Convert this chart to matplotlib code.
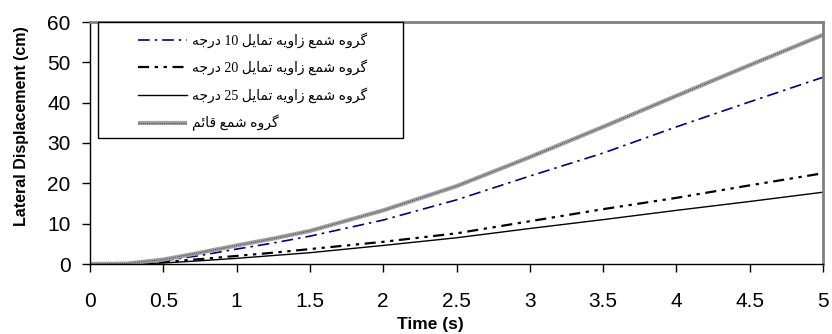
import re
import numpy as np
import matplotlib
matplotlib.use("Agg")
import matplotlib.pyplot as plt
from matplotlib.patches import Rectangle

# time axis (s)
time_s = [0, 0.25, 0.5, 0.75, 1, 1.25, 1.5, 2, 2.5, 3, 3.5, 4, 4.5, 5]
# lateral displacement (cm)
disp_10 = [0, 0.1, 0.8, 2.1, 3.7, 5.2, 6.9, 10.9, 15.9, 21.8, 27.5, 34.0, 40.2, 46.3]
disp_20 = [0, 0.05, 0.5, 1.2, 2.0, 2.8, 3.7, 5.5, 7.6, 10.6, 13.6, 16.4, 19.5, 22.5]
disp_25 = [0, 0.0, 0.25, 0.8, 1.4, 2.1, 2.8, 4.6, 6.5, 8.8, 11.0, 13.3, 15.5, 17.8]
disp_vert = [0, 0.1, 1.1, 2.8, 4.6, 6.3, 8.2, 13.3, 19.3, 26.5, 34.0, 41.7, 49.3, 56.8]

labels = ["گروه شمع زاویه تمایل 10 درجه",
          "گروه شمع زاویه تمایل 20 درجه",
          "گروه شمع زاویه تمایل 25 درجه",
          "گروه شمع قائم"]

# simple arabic shaping (presentation forms) + visual order, no external libs
FORMS = {
    'ا': ('\uFE8D', '\uFE8E', None, None),
    'د': ('\uFEA9', '\uFEAA', None, None),
    'ر': ('\uFEAD', '\uFEAE', None, None),
    'ز': ('\uFEAF', '\uFEB0', None, None),
    'و': ('\uFEED', '\uFEEE', None, None),
    'ت': ('\uFE95', '\uFE96', '\uFE97', '\uFE98'),
    'ج': ('\uFE9D', '\uFE9E', '\uFE9F', '\uFEA0'),
    'ش': ('\uFEB5', '\uFEB6', '\uFEB7', '\uFEB8'),
    'ع': ('\uFEC9', '\uFECA', '\uFECB', '\uFECC'),
    'ق': ('\uFED5', '\uFED6', '\uFED7', '\uFED8'),
    'ل': ('\uFEDD', '\uFEDE', '\uFEDF', '\uFEE0'),
    'م': ('\uFEE1', '\uFEE2', '\uFEE3', '\uFEE4'),
    'ه': ('\uFEE9', '\uFEEA', '\uFEEB', '\uFEEC'),
    'ئ': ('\uFE89', '\uFE8A', '\uFE8B', '\uFE8C'),
    'ی': ('\uFBFC', '\uFBFD', '\uFBFE', '\uFBFF'),
    'گ': ('\uFB92', '\uFB93', '\uFB94', '\uFB95'),
}


def dual(c):
    return c in FORMS and FORMS[c][2] is not None


def shape(s):
    out = []
    for i, c in enumerate(s):
        if c not in FORMS:
            out.append(c)
            continue
        prev = s[i - 1] if i > 0 else ''
        nxt = s[i + 1] if i + 1 < len(s) else ''
        jp = dual(prev)
        jn = dual(c) and nxt in FORMS
        f = FORMS[c]
        if jp and jn:
            out.append(f[3])
        elif jp:
            out.append(f[1])
        elif jn:
            out.append(f[2])
        else:
            out.append(f[0])
    vis = ''.join(out)[::-1]
    return re.sub(r'\d+', lambda m: m.group()[::-1], vis)


plt.rcParams['font.family'] = ['Liberation Sans', 'DejaVu Sans']

fig = plt.figure(figsize=(8.32, 3.34), dpi=100)
ax = fig.add_axes([90 / 832, 70 / 334, 733 / 832, 242 / 334])

h1, = ax.plot(time_s, disp_10, color='#000080', lw=1.2, ls=(0, (7, 3, 1.5, 3)))
h2, = ax.plot(time_s, disp_20, color='black', lw=1.6, ls=(0, (5, 2.5, 1.5, 2.5, 1.5, 2.5)))
h3, = ax.plot(time_s, disp_25, color='black', lw=1.0)
h4a, = ax.plot(time_s, disp_vert, color='#a0a0a0', lw=3.0, solid_capstyle='butt')
h4b, = ax.plot(time_s, disp_vert, color='#404040', lw=0.7, ls=(0, (1, 1.2)))

ax.set_xlim(0, 5)
ax.set_ylim(0, 60)
ax.set_xticks(np.arange(0, 5.01, 0.5))
ax.set_xticklabels(['0', '0.5', '1', '1.5', '2', '2.5', '3', '3.5', '4', '4.5', '5'])
ax.set_yticks(np.arange(0, 61, 10))
ax.tick_params(axis='both', direction='out', length=6, width=1, labelsize=15, color='black')
ax.tick_params(axis='x', pad=14)
ax.tick_params(axis='y', pad=8)

for side in ['left', 'bottom']:
    ax.spines[side].set_color('black')
    ax.spines[side].set_linewidth(1)
for side in ['top', 'right']:
    ax.spines[side].set_color('#808080')
    ax.spines[side].set_linewidth(2)

fig.text(430 / 832, 1 - 324 / 334, 'Time (s)', fontsize=12.5, fontweight='bold',
         ha='center', va='center')
fig.text(22 / 832, 1 - 126 / 334, 'Lateral Displacement (cm)', fontsize=11.5,
         fontweight='bold', rotation=90, ha='center', va='center')

# legend frame drawn separately so the box size matches
box = Rectangle((98 / 832, 1 - 138 / 334), 305 / 832, 116 / 334, transform=fig.transFigure,
                facecolor='white', edgecolor='black', lw=1, zorder=5)
fig.patches.append(box)

leg = fig.legend([h1, h2, h3, (h4a, h4b)], [shape(t) for t in labels],
                 loc='upper left', bbox_to_anchor=(138 / 832, 1 - 32 / 334),
                 frameon=False, handlelength=3.5, handletextpad=0.36,
                 labelspacing=0.86, borderpad=0, borderaxespad=0,
                 prop={'family': ['Liberation Serif', 'DejaVu Sans'], 'size': 10})
leg.set_zorder(6)

fig.savefig('out.png', dpi=100)
